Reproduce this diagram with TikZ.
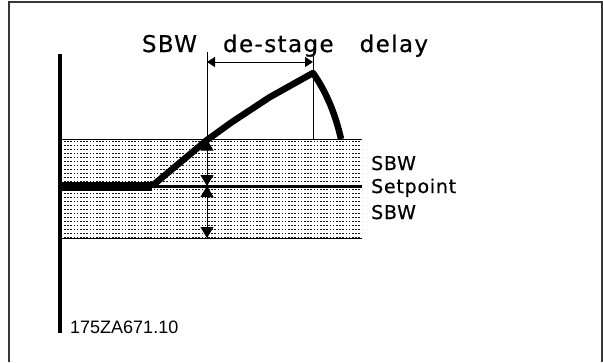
\documentclass[tikz,border=0pt]{standalone}
\usepackage{fontspec}
\usepackage{xcolor}
\usepackage{tikz}
\usetikzlibrary{arrows.meta,patterns,calc}
\setmainfont{DejaVu Sans}
\newfontfamily\lblfont{DejaVu Sans}[LetterSpace=4,FakeBold=0.6]
\newfontfamily\titlefont{DejaVu Sans}[LetterSpace=6,WordSpace=3,FakeBold=0.6]
\newfontfamily\codefont{Liberation Sans}
\definecolor{framegrey}{RGB}{55,55,55}
\definecolor{bandink}{RGB}{20,20,20}
% dotted fill of the switch bandwidth
\pgfdeclarepatternformonly{sbwdots}{\pgfqpoint{-0.5pt}{-0.5pt}}{\pgfqpoint{3.5pt}{4.5pt}}{\pgfqpoint{3.2pt}{4pt}}{%
  \pgfpathrectangle{\pgfpointorigin}{\pgfqpoint{1.6pt}{1.2pt}}\pgfusepath{fill}}

\begin{document}
\begin{tikzpicture}[x=1pt,y=-1pt,
    bandedge/.style={line width=0.8pt},
    dimtip/.style={{Triangle[length=11pt,width=13pt]}-{Triangle[length=11pt,width=13pt]},line width=0.8pt},
    delaytip/.style={{Triangle[length=8pt,width=10pt]}-{Triangle[length=8pt,width=10pt]},line width=0.8pt},
    lbl/.style={font=\lblfont\fontsize{19}{22}\selectfont,anchor=base west,inner sep=0pt}]
    \useasboundingbox (0,0) rectangle (603,362);
    % frame
    \draw[framegrey,line width=1.5pt] (9,362) -- (9,2) -- (602,2) -- (602,362);

    % band round the setpoint
    \fill[pattern=sbwdots,pattern color=bandink] (62,139) rectangle (362,238);
    \coordinate (bandTL) at (62,139);
    \coordinate (bandTR) at (362,139);
    \coordinate (bandBL) at (62,238);
    \coordinate (bandBR) at (362,238);
    \coordinate (spL) at (62,186);
    \coordinate (spR) at (362,186);
    \draw[bandedge] (bandTL) -- (bandTR);
    \draw[bandedge] (bandBL) -- (bandBR);
    \draw[line width=3pt] (spL) -- (spR);

    % axis
    \coordinate (axTop) at (60,54);
    \coordinate (axBot) at (60,333);
    \draw[line width=4pt] (axTop) -- (axBot);

    % response curve
    \coordinate (kneeA) at (152,186);
    \coordinate (cross) at (207,140);
    \coordinate (peak) at (313,73);
    \coordinate (drop) at (341,139);
    \draw[line width=9pt] (spL) -- (kneeA);
    \draw[line width=6.5pt,line join=round] (kneeA) -- (cross) -- (232,122) -- (270,97) -- (peak)
        .. controls (325,90) and (335,112) .. (drop);

    % delay markers
    \coordinate (delA) at (207,52);
    \coordinate (delB) at (313,52);
    \coordinate (cutA) at (207,238);
    \coordinate (cutB) at (313,139);
    \draw[line width=0.8pt] (delA) -- (cutA);
    \draw[line width=0.8pt] (delB) -- (cutB);
    \draw[delaytip] ($(delA)+(0,10)$) -- ($(delB)+(0,10)$);

    % bandwidth dimensions
    \coordinate (dimTop) at (207,139.5);
    \coordinate (dimMid) at (207,186);
    \coordinate (dimBot) at (207,238);
    \draw[dimtip] (dimTop) -- (dimMid);
    \draw[dimtip] (dimMid) -- (dimBot);

    % texts
    \node[font=\titlefont\fontsize{23}{26}\selectfont,anchor=base,inner sep=0pt] (title) at (285,52) {SBW de-stage delay};
    \node[lbl] (sbwUp) at (371,170) {SBW};
    \node[lbl] (setp) at (371,193) {Setpoint};
    \node[lbl] (sbwDn) at (371,219) {SBW};
    \node[font=\codefont\fontsize{18}{20}\selectfont,anchor=base west,inner sep=0pt] (code) at (70,333) {175ZA671.10};
\end{tikzpicture}
\end{document}
